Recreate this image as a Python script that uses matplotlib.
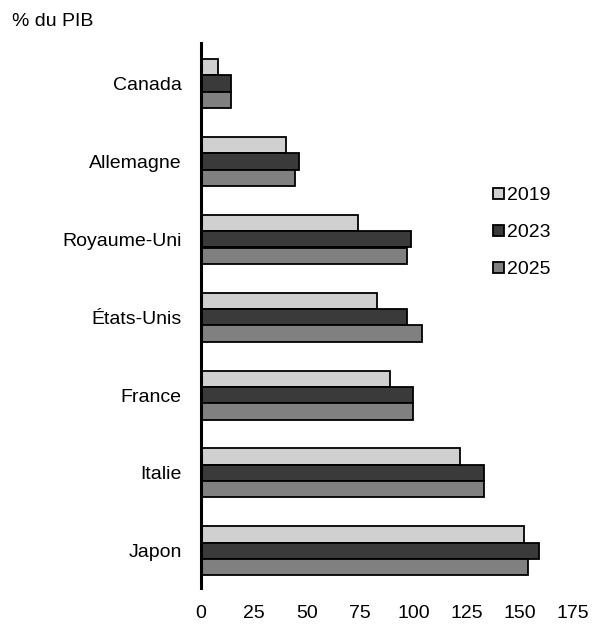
import numpy as np
import matplotlib.pyplot as plt

plt.rcParams['font.family'] = ['Liberation Sans', 'DejaVu Sans']

pays = ["Canada", "Allemagne", "Royaume-Uni", "États-Unis", "France", "Italie", "Japon"]
annees = ["2019", "2023", "2025"]
dette_2019 = [8, 40, 74, 83, 89, 122, 152]
dette_2023 = [14, 46, 99, 97, 100, 133, 159]
dette_2025 = [14, 44, 97, 104, 100, 133, 154]
couleurs = ["#d0d0d0", "#3a3a3a", "#808080"]

fig = plt.figure(figsize=(5.93, 6.25), dpi=100)
ax = fig.add_axes([0.339, 0.059, 0.627, 0.872])

y = np.arange(len(pays))
h = 0.21
for k, (serie, c) in enumerate(zip([dette_2019, dette_2023, dette_2025], couleurs)):
    ax.barh(y + (k - 1) * h, serie, height=h, color=c, edgecolor="black",
            linewidth=1.3, label=annees[k])

ax.set_ylim(6.48, -0.52)
ax.set_xlim(0, 175)
ax.set_xticks(np.arange(0, 176, 25))
ax.set_yticks(y)
ax.set_yticklabels(pays)
ax.tick_params(axis="both", length=0, labelsize=14)
ax.tick_params(axis="y", pad=14)
ax.tick_params(axis="x", pad=12)
for s in ["top", "right", "bottom"]:
    ax.spines[s].set_visible(False)
ax.spines["left"].set_linewidth(2.2)

ax.legend(loc="center left", bbox_to_anchor=(0.765, 0.652), frameon=False,
          fontsize=14, handlelength=0.55, handleheight=0.55,
          handletextpad=0.15, labelspacing=1.03, borderaxespad=0)

fig.text(12 / 593, 1 - 22 / 625, "% du PIB", fontsize=14, va="center")

fig.savefig("out.png", dpi=100)
